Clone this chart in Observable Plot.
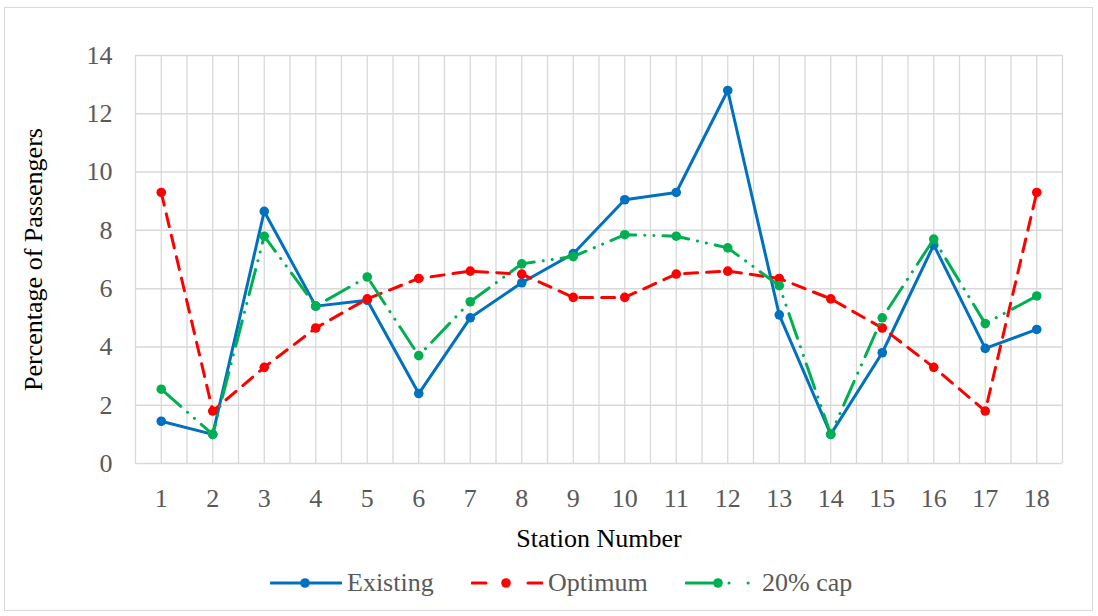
<!DOCTYPE html>
<html>
<head>
<meta charset="utf-8">
<script src="https://cdn.jsdelivr.net/npm/d3@7"></script>
<script src="https://cdn.jsdelivr.net/npm/@observablehq/plot@0.6"></script>
<style>
  html, body { margin: 0; padding: 0; background: #fff; }
  #wrap { position: relative; width: 1098px; height: 616px; overflow: hidden; font-family: "Liberation Serif", "Times New Roman", serif; }
  #frame { position: absolute; left: 4px; top: 7px; width: 1089px; height: 604px; border: 1px solid #d9d9d9; box-sizing: border-box; }
  #chart { position: absolute; left: 0; top: 0; }
  .leg { position: absolute; top: 569px; height: 28px; display: flex; align-items: center; font-size: 26px; color: #595959; white-space: nowrap; }
  .leg svg { margin-right: 5px; }
</style>
</head>
<body>
<div id="wrap">
  <div id="frame"></div>
  <div id="chart"></div>
  <div id="legend"></div>
</div>
<script>
const stations = [1, 2, 3, 4, 5, 6, 7, 8, 9, 10, 11, 12, 13, 14, 15, 16, 17, 18];
const existing = [1.45, 1.0, 8.65, 5.4, 5.6, 2.4, 5.0, 6.2, 7.2, 9.05, 9.3, 12.8, 5.1, 1.0, 3.8, 7.5, 3.95, 4.6];
const optimum  = [9.3, 1.8, 3.3, 4.65, 5.65, 6.35, 6.6, 6.5, 5.7, 5.7, 6.5, 6.6, 6.35, 5.65, 4.65, 3.3, 1.8, 9.3];
const cap20    = [2.55, 1.0, 7.8, 5.4, 6.4, 3.7, 5.55, 6.85, 7.1, 7.85, 7.8, 7.4, 6.1, 1.0, 5.0, 7.7, 4.8, 5.75];
const seriesNames = ["Existing", "Optimum", "20% cap"];
const seriesColors = ["#0070C0", "#FF0000", "#00B050"];
const seriesDash = [null, "13,9", "26,9,0.1,9,0.1,9"];
const legendDash = [null, "14,42,14", "32,11,0.1,19,0.1,30"];
const yTicks = [0, 2, 4, 6, 8, 10, 12, 14];
const xTitle = "Station Number";
const yTitle = "Percentage of Passengers";

const seriesValues = [existing, optimum, cap20];
const rows = seriesNames.map((name, s) => stations.map((st, i) => ({series: name, station: st, value: seriesValues[s][i]})));
const gridX = stations.flatMap(s => [s - 0.5, s]).concat([stations[stations.length - 1] + 0.5]);

const seriesMarks = rows.flatMap((data, s) => [
  Plot.line(data, {x: "station", y: "value", stroke: seriesColors[s], strokeWidth: 3,
    strokeDasharray: seriesDash[s], strokeLinecap: "round", strokeLinejoin: "round"}),
  Plot.dot(data, {x: "station", y: "value", r: 4.8, fill: seriesColors[s], stroke: "none"})
]);

const chart = Plot.plot({
  width: 1098,
  height: 560,
  marginTop: 55,
  marginBottom: 97,
  marginLeft: 135,
  marginRight: 36,
  x: {domain: [stations[0] - 0.5, stations[stations.length - 1] + 0.5]},
  y: {domain: [yTicks[0], yTicks[yTicks.length - 1]]},
  style: {fontFamily: "'Liberation Serif', 'Times New Roman', serif", fontSize: "26px", color: "#595959", background: "transparent", overflow: "visible"},
  marks: [
    Plot.ruleX(gridX, {stroke: "#d9d9d9", strokeWidth: 1.3}),
    Plot.ruleY(yTicks, {stroke: "#d9d9d9", strokeWidth: 1.5}),
    Plot.axisX(stations, {tickSize: 0, tickPadding: 25, label: null, fill: "#595959", fontSize: 26}),
    Plot.axisY(yTicks, {tickSize: 0, tickPadding: 23, label: null, fill: "#595959", fontSize: 26}),
    Plot.text([xTitle], {frameAnchor: "bottom", dy: 75, fill: "#000", fontSize: 26, lineAnchor: "middle", textAnchor: "middle"}),
    Plot.text([yTitle], {frameAnchor: "left", dx: -102, rotate: -90, fill: "#000", fontSize: 26, lineAnchor: "middle", textAnchor: "middle"}),
    ...seriesMarks
  ]
});
document.getElementById("chart").appendChild(chart);

// Legend
const legendLeft = [270, 471, 685];
const legend = document.getElementById("legend");
seriesNames.forEach((name, s) => {
  const item = document.createElement("div");
  item.className = "leg";
  item.style.left = legendLeft[s] + "px";
  const ns = "http://www.w3.org/2000/svg";
  const svg = document.createElementNS(ns, "svg");
  svg.setAttribute("width", 72);
  svg.setAttribute("height", 20);
  const line = document.createElementNS(ns, "line");
  line.setAttribute("x1", 1); line.setAttribute("x2", 71);
  line.setAttribute("y1", 10); line.setAttribute("y2", 10);
  line.setAttribute("stroke", seriesColors[s]);
  line.setAttribute("stroke-width", 3);
  line.setAttribute("stroke-linecap", "round");
  if (legendDash[s]) line.setAttribute("stroke-dasharray", legendDash[s]);
  svg.appendChild(line);
  const c = document.createElementNS(ns, "circle");
  c.setAttribute("cx", s === 2 ? 33 : 35); c.setAttribute("cy", 10); c.setAttribute("r", 4.8);
  c.setAttribute("fill", seriesColors[s]);
  svg.appendChild(c);
  item.appendChild(svg);
  const t = document.createElement("span");
  t.textContent = name;
  item.appendChild(t);
  legend.appendChild(item);
});
</script>
</body>
</html>
